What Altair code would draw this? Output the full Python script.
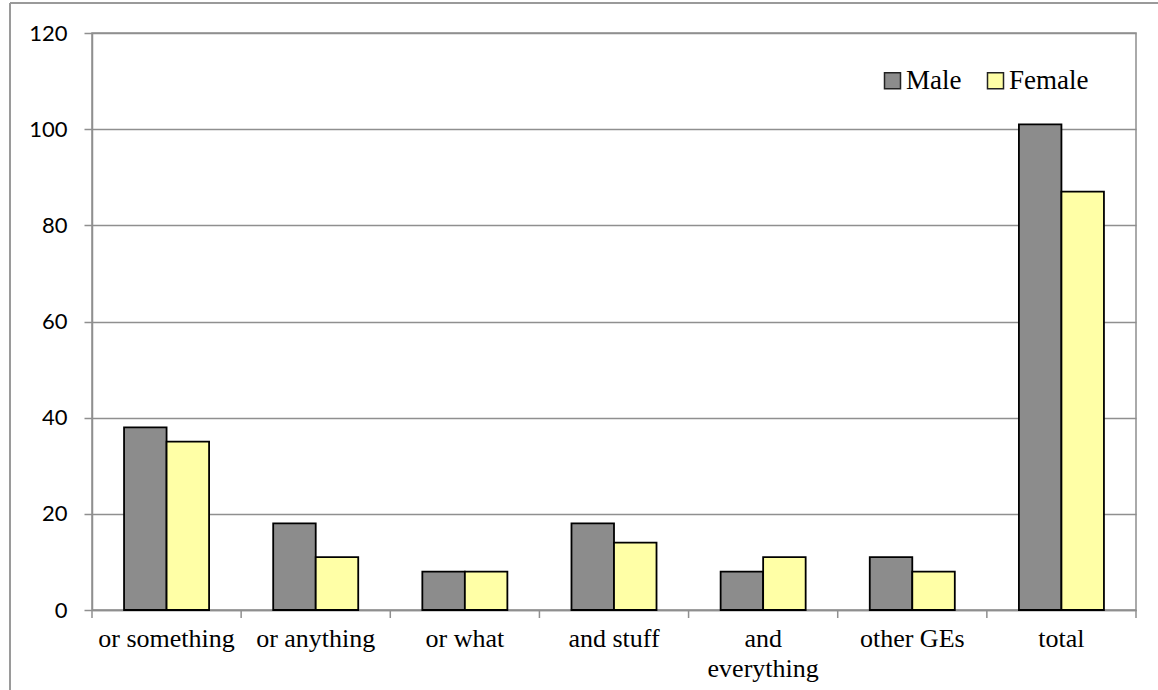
import altair as alt
import pandas as pd

categories = ["or something", "or anything", "or what", "and stuff",
              "and everything", "other GEs", "total"]
male = [38, 18, 8, 18, 8, 11, 101]
female = [35, 11, 8, 14, 11, 8, 87]
genders = ["Male", "Female"]
colors = ["#8c8c8c", "#ffffa6"]
y_ticks = [0, 20, 40, 60, 80, 100, 120]

rows = []
for c, m, f in zip(categories, male, female):
    rows.append({"category": c, "gender": "Male", "value": m})
    rows.append({"category": c, "gender": "Female", "value": f})
df = pd.DataFrame(rows)
cat_df = pd.DataFrame({"category": categories})

GRID = "#8f8f8f"

x_scale = alt.Scale(paddingInner=0, paddingOuter=0)

bars = alt.Chart(df).mark_bar(stroke="black", strokeWidth=1.8).encode(
    x=alt.X("category:N", sort=categories, title=None, scale=x_scale,
            axis=alt.Axis(labelAngle=0, ticks=False, grid=False,
                          domainColor=GRID, domainWidth=1.5,
                          labelFont="Liberation Serif", labelFontSize=26,
                          labelColor="black", labelPadding=15, labelLimit=400,
                          labelLineHeight=30,
                          labelExpr="datum.label == 'and everything' ? ['and', 'everything'] : datum.label")),
    xOffset=alt.XOffset("gender:N", sort=genders,
                        scale=alt.Scale(paddingInner=0, paddingOuter=0.754)),
    y=alt.Y("value:Q", title=None,
            scale=alt.Scale(domain=[0, 120], nice=False),
            axis=alt.Axis(values=y_ticks, grid=True, gridColor=GRID, gridWidth=1.5,
                          tickSize=8, tickColor=GRID, tickWidth=1.5,
                          domainColor=GRID, domainWidth=1.5,
                          labelFont="Lato", labelFontSize=22, labelColor="black",
                          labelPadding=17)),
    color=alt.Color("gender:N", sort=genders,
                    scale=alt.Scale(domain=genders, range=colors),
                    legend=alt.Legend(title=None, orient="none", direction="horizontal",
                                      legendX=787, legendY=34, padding=0,
                                      symbolType="square", symbolSize=256,
                                      symbolStrokeColor="#222", symbolStrokeWidth=1.5,
                                      labelFont="Liberation Serif", labelFontSize=27,
                                      labelColor="black", labelOffset=0,
                                      columnPadding=20)),
)

# category-boundary ticks below the x axis (left edge of each category band)
band_ticks = alt.Chart(cat_df).mark_rule(color=GRID, strokeWidth=1.5).encode(
    x=alt.X("category:N", sort=categories, bandPosition=0, title=None),
    y=alt.value(577), y2=alt.value(585))
end_tick = alt.Chart(alt.Data(values=[{"k": 1}])).mark_rule(color=GRID, strokeWidth=1.5).encode(
    x=alt.value(1044), y=alt.value(577), y2=alt.value(585))

frame = alt.Data(values=[{"k": 1}])
top_border = alt.Chart(frame).mark_rule(color="#9a9a9a", strokeWidth=2).encode(
    x=alt.value(-82), x2=alt.value(1100), y=alt.value(-30))
left_border = alt.Chart(frame).mark_rule(color="#9a9a9a", strokeWidth=2).encode(
    x=alt.value(-82), y=alt.value(-30), y2=alt.value(700))

chart = alt.layer(bars, band_ticks, end_tick, top_border, left_border).properties(
    width=1044, height=577,
    autosize=alt.AutoSizeParams(type="none"),
    padding={"left": 92, "top": 33, "right": 22, "bottom": 80},
).configure_view(stroke=GRID, strokeWidth=1.5)

chart.save("out.html", embed_options={"renderer": "svg", "actions": False})
